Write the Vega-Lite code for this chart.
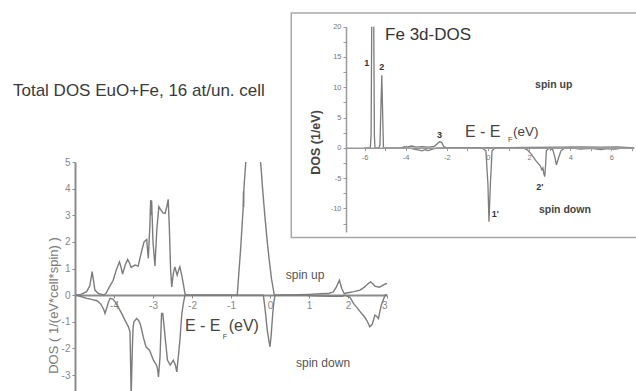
{
  "$schema": "https://vega.github.io/schema/vega-lite/v6.json",
  "width": 636,
  "height": 391,
  "autosize": "none",
  "padding": 0,
  "background": "white",
  "config": {"view": {"stroke": null}, "font": "Liberation Sans", "axis": {"grid": false, "labelFont": "Liberation Sans", "titleFont": "Liberation Sans"}},
  "datasets": {
    "main": [
      {"s": "up1", "x": -4.97, "y": 0}, {"s": "up1", "x": -4.85, "y": 0.03}, {"s": "up1", "x": -4.7, "y": 0.13}, {"s": "up1", "x": -4.62, "y": 0.35}, {"s": "up1", "x": -4.56, "y": 0.88}, {"s": "up1", "x": -4.52, "y": 0.5}, {"s": "up1", "x": -4.49, "y": 0.19}, {"s": "up1", "x": -4.4, "y": 0.06}, {"s": "up1", "x": -4.27, "y": 0.01}, {"s": "up1", "x": -4.21, "y": 0.05}, {"s": "up1", "x": -4.12, "y": 0.3}, {"s": "up1", "x": -4.02, "y": 0.56}, {"s": "up1", "x": -3.94, "y": 0.95}, {"s": "up1", "x": -3.86, "y": 1.25}, {"s": "up1", "x": -3.82, "y": 1.05}, {"s": "up1", "x": -3.78, "y": 0.79}, {"s": "up1", "x": -3.72, "y": 1.1}, {"s": "up1", "x": -3.65, "y": 1.34}, {"s": "up1", "x": -3.6, "y": 1.2}, {"s": "up1", "x": -3.56, "y": 1.04}, {"s": "up1", "x": -3.5, "y": 1.1}, {"s": "up1", "x": -3.46, "y": 1.13}, {"s": "up1", "x": -3.38, "y": 1.09}, {"s": "up1", "x": -3.3, "y": 1.6}, {"s": "up1", "x": -3.23, "y": 2.0}, {"s": "up1", "x": -3.16, "y": 2.09}, {"s": "up1", "x": -3.14, "y": 1.7}, {"s": "up1", "x": -3.12, "y": 1.38}, {"s": "up1", "x": -3.08, "y": 2.6}, {"s": "up1", "x": -3.06, "y": 3.57}, {"s": "up1", "x": -3.045, "y": 3.0}, {"s": "up1", "x": -3.035, "y": 3.55}, {"s": "up1", "x": -3.0, "y": 2.0}, {"s": "up1", "x": -2.95, "y": 1.1}, {"s": "up1", "x": -2.9, "y": 2.5}, {"s": "up1", "x": -2.85, "y": 3.32}, {"s": "up1", "x": -2.8, "y": 3.2}, {"s": "up1", "x": -2.75, "y": 3.1}, {"s": "up1", "x": -2.69, "y": 3.07}, {"s": "up1", "x": -2.65, "y": 3.3}, {"s": "up1", "x": -2.61, "y": 3.6}, {"s": "up1", "x": -2.58, "y": 2.5}, {"s": "up1", "x": -2.55, "y": 1.0}, {"s": "up1", "x": -2.52, "y": 0.31}, {"s": "up1", "x": -2.48, "y": 0.8}, {"s": "up1", "x": -2.44, "y": 1.06}, {"s": "up1", "x": -2.4, "y": 0.85}, {"s": "up1", "x": -2.38, "y": 0.75}, {"s": "up1", "x": -2.34, "y": 0.95}, {"s": "up1", "x": -2.31, "y": 1.06}, {"s": "up1", "x": -2.27, "y": 0.8}, {"s": "up1", "x": -2.22, "y": 0.4}, {"s": "up1", "x": -2.18, "y": 0.06}, {"s": "up1", "x": -2.14, "y": 0}, {"s": "up1", "x": -1.5, "y": 0}, {"s": "up1", "x": -0.84, "y": 0}, {"s": "up1", "x": -0.8, "y": 0.8}, {"s": "up1", "x": -0.75, "y": 1.8}, {"s": "up1", "x": -0.7, "y": 3.0}, {"s": "up1", "x": -0.69, "y": 3.2}, {"s": "up1", "x": -0.68, "y": 3.9}, {"s": "up1", "x": -0.675, "y": 3.3}, {"s": "up1", "x": -0.67, "y": 3.95}, {"s": "up1", "x": -0.66, "y": 4.2}, {"s": "up1", "x": -0.62, "y": 5.0},
      {"s": "up2", "x": -0.24, "y": 5.0}, {"s": "up2", "x": -0.19, "y": 4.0}, {"s": "up2", "x": -0.13, "y": 2.94}, {"s": "up2", "x": -0.07, "y": 2.0}, {"s": "up2", "x": -0.02, "y": 1.32}, {"s": "up2", "x": 0.04, "y": 0.6}, {"s": "up2", "x": 0.11, "y": 0}, {"s": "up2", "x": 0.5, "y": 0.01}, {"s": "up2", "x": 1.0, "y": 0.03}, {"s": "up2", "x": 1.3, "y": 0.05}, {"s": "up2", "x": 1.5, "y": 0.06}, {"s": "up2", "x": 1.62, "y": 0.12}, {"s": "up2", "x": 1.7, "y": 0.3}, {"s": "up2", "x": 1.78, "y": 0.56}, {"s": "up2", "x": 1.84, "y": 0.25}, {"s": "up2", "x": 1.9, "y": 0.06}, {"s": "up2", "x": 2.0, "y": 0.09}, {"s": "up2", "x": 2.15, "y": 0.13}, {"s": "up2", "x": 2.31, "y": 0.19}, {"s": "up2", "x": 2.42, "y": 0.3}, {"s": "up2", "x": 2.52, "y": 0.44}, {"s": "up2", "x": 2.58, "y": 0.5}, {"s": "up2", "x": 2.64, "y": 0.42}, {"s": "up2", "x": 2.69, "y": 0.34}, {"s": "up2", "x": 2.8, "y": 0.3}, {"s": "up2", "x": 2.86, "y": 0.34}, {"s": "up2", "x": 2.93, "y": 0.4}, {"s": "up2", "x": 3.0, "y": 0.44},
      {"s": "down", "x": -4.97, "y": 0}, {"s": "down", "x": -4.85, "y": -0.05}, {"s": "down", "x": -4.7, "y": -0.12}, {"s": "down", "x": -4.55, "y": -0.17}, {"s": "down", "x": -4.44, "y": -0.21}, {"s": "down", "x": -4.36, "y": -0.3}, {"s": "down", "x": -4.32, "y": -0.38}, {"s": "down", "x": -4.26, "y": -0.55}, {"s": "down", "x": -4.23, "y": -0.69}, {"s": "down", "x": -4.19, "y": -0.5}, {"s": "down", "x": -4.14, "y": -0.25}, {"s": "down", "x": -4.1, "y": -0.12}, {"s": "down", "x": -4.03, "y": -0.15}, {"s": "down", "x": -3.97, "y": -0.25}, {"s": "down", "x": -3.91, "y": -0.4}, {"s": "down", "x": -3.85, "y": -0.56}, {"s": "down", "x": -3.78, "y": -0.75}, {"s": "down", "x": -3.72, "y": -0.94}, {"s": "down", "x": -3.63, "y": -1.19}, {"s": "down", "x": -3.59, "y": -1.38}, {"s": "down", "x": -3.575, "y": -2.5}, {"s": "down", "x": -3.56, "y": -3.8}, {"s": "down", "x": -3.53, "y": -2.0}, {"s": "down", "x": -3.51, "y": -1.2}, {"s": "down", "x": -3.49, "y": -1.0}, {"s": "down", "x": -3.42, "y": -0.88}, {"s": "down", "x": -3.37, "y": -0.95}, {"s": "down", "x": -3.33, "y": -1.07}, {"s": "down", "x": -3.29, "y": -1.3}, {"s": "down", "x": -3.25, "y": -1.57}, {"s": "down", "x": -3.18, "y": -1.94}, {"s": "down", "x": -3.09, "y": -2.07}, {"s": "down", "x": -3.04, "y": -2.25}, {"s": "down", "x": -2.99, "y": -2.44}, {"s": "down", "x": -2.91, "y": -2.63}, {"s": "down", "x": -2.88, "y": -2.8}, {"s": "down", "x": -2.86, "y": -3.07}, {"s": "down", "x": -2.84, "y": -2.7}, {"s": "down", "x": -2.82, "y": -2.32}, {"s": "down", "x": -2.8, "y": -1.5}, {"s": "down", "x": -2.78, "y": -0.69}, {"s": "down", "x": -2.75, "y": -0.69}, {"s": "down", "x": -2.72, "y": -1.1}, {"s": "down", "x": -2.69, "y": -1.57}, {"s": "down", "x": -2.66, "y": -2.0}, {"s": "down", "x": -2.63, "y": -2.44}, {"s": "down", "x": -2.56, "y": -2.63}, {"s": "down", "x": -2.48, "y": -2.44}, {"s": "down", "x": -2.43, "y": -2.6}, {"s": "down", "x": -2.39, "y": -2.88}, {"s": "down", "x": -2.35, "y": -2.3}, {"s": "down", "x": -2.31, "y": -1.69}, {"s": "down", "x": -2.26, "y": -0.69}, {"s": "down", "x": -2.22, "y": -0.3}, {"s": "down", "x": -2.18, "y": 0}, {"s": "down", "x": -1.0, "y": 0}, {"s": "down", "x": -0.17, "y": 0}, {"s": "down", "x": -0.12, "y": -0.6}, {"s": "down", "x": -0.07, "y": -1.32}, {"s": "down", "x": -0.03, "y": -1.7}, {"s": "down", "x": 0.0, "y": -1.94}, {"s": "down", "x": 0.03, "y": -1.5}, {"s": "down", "x": 0.07, "y": -0.69}, {"s": "down", "x": 0.1, "y": -0.25}, {"s": "down", "x": 0.13, "y": 0}, {"s": "down", "x": 0.9, "y": 0}, {"s": "down", "x": 1.0, "y": -0.02}, {"s": "down", "x": 1.5, "y": -0.04}, {"s": "down", "x": 1.85, "y": -0.04}, {"s": "down", "x": 1.92, "y": 0}, {"s": "down", "x": 2.05, "y": -0.08}, {"s": "down", "x": 2.14, "y": -0.31}, {"s": "down", "x": 2.22, "y": -0.45}, {"s": "down", "x": 2.3, "y": -0.6}, {"s": "down", "x": 2.44, "y": -0.85}, {"s": "down", "x": 2.5, "y": -1.0}, {"s": "down", "x": 2.56, "y": -1.19}, {"s": "down", "x": 2.62, "y": -1.1}, {"s": "down", "x": 2.69, "y": -0.75}, {"s": "down", "x": 2.74, "y": -0.8}, {"s": "down", "x": 2.78, "y": -0.88}, {"s": "down", "x": 2.82, "y": -0.6}, {"s": "down", "x": 2.86, "y": -0.35}, {"s": "down", "x": 2.95, "y": 0}, {"s": "down", "x": 3.0, "y": 0.02}
    ],
    "inset": [
      {"s": "u1", "x": -6.0, "y": 0}, {"s": "u1", "x": -5.72, "y": 0}, {"s": "u1", "x": -5.68, "y": 2}, {"s": "u1", "x": -5.65, "y": 20},
      {"s": "u2", "x": -5.55, "y": 20}, {"s": "u2", "x": -5.52, "y": 2}, {"s": "u2", "x": -5.49, "y": 0}, {"s": "u2", "x": -5.3, "y": 0}, {"s": "u2", "x": -5.25, "y": 0.5}, {"s": "u2", "x": -5.16, "y": 12}, {"s": "u2", "x": -5.08, "y": 0}, {"s": "u2", "x": -4.2, "y": 0}, {"s": "u2", "x": -4.05, "y": 0.2}, {"s": "u2", "x": -3.9, "y": 0.15}, {"s": "u2", "x": -3.7, "y": 0.3}, {"s": "u2", "x": -3.5, "y": 0.1}, {"s": "u2", "x": -3.2, "y": 0.2}, {"s": "u2", "x": -2.9, "y": 0.1}, {"s": "u2", "x": -2.6, "y": 0.25}, {"s": "u2", "x": -2.45, "y": 0.7}, {"s": "u2", "x": -2.35, "y": 1.0}, {"s": "u2", "x": -2.25, "y": 0.9}, {"s": "u2", "x": -2.15, "y": 0.2}, {"s": "u2", "x": -2.0, "y": 0}, {"s": "u2", "x": 2.0, "y": 0.05}, {"s": "u2", "x": 3.6, "y": 0.1}, {"s": "u2", "x": 4.5, "y": 0.15}, {"s": "u2", "x": 5.5, "y": 0.1}, {"s": "u2", "x": 6.3, "y": 0.15}, {"s": "u2", "x": 7.1, "y": 0},
      {"s": "d", "x": -4.2, "y": 0}, {"s": "d", "x": -4.0, "y": -0.1}, {"s": "d", "x": -3.8, "y": -0.05}, {"s": "d", "x": -3.6, "y": -0.2}, {"s": "d", "x": -3.4, "y": -0.35}, {"s": "d", "x": -3.2, "y": -0.5}, {"s": "d", "x": -3.05, "y": -0.3}, {"s": "d", "x": -2.9, "y": -0.45}, {"s": "d", "x": -2.7, "y": -0.2}, {"s": "d", "x": -2.5, "y": -0.05}, {"s": "d", "x": -2.2, "y": 0}, {"s": "d", "x": -0.3, "y": 0}, {"s": "d", "x": -0.1, "y": -0.5}, {"s": "d", "x": 0.0, "y": -6}, {"s": "d", "x": 0.05, "y": -12.2}, {"s": "d", "x": 0.12, "y": -6}, {"s": "d", "x": 0.2, "y": -0.5}, {"s": "d", "x": 0.35, "y": 0}, {"s": "d", "x": 1.7, "y": 0}, {"s": "d", "x": 1.9, "y": -0.3}, {"s": "d", "x": 2.1, "y": -1.0}, {"s": "d", "x": 2.3, "y": -2.0}, {"s": "d", "x": 2.45, "y": -2.6}, {"s": "d", "x": 2.55, "y": -3.0}, {"s": "d", "x": 2.62, "y": -3.6}, {"s": "d", "x": 2.67, "y": -3.3}, {"s": "d", "x": 2.72, "y": -4.3}, {"s": "d", "x": 2.76, "y": -4.75}, {"s": "d", "x": 2.8, "y": -3.0}, {"s": "d", "x": 2.84, "y": -0.5}, {"s": "d", "x": 2.95, "y": -0.1}, {"s": "d", "x": 3.15, "y": -0.3}, {"s": "d", "x": 3.25, "y": -1.5}, {"s": "d", "x": 3.33, "y": -2.8}, {"s": "d", "x": 3.42, "y": -1.8}, {"s": "d", "x": 3.55, "y": -0.5}, {"s": "d", "x": 3.7, "y": -0.1}, {"s": "d", "x": 4.0, "y": 0}, {"s": "d", "x": 4.5, "y": -0.2}, {"s": "d", "x": 5.0, "y": -0.1}, {"s": "d", "x": 5.5, "y": -0.3}, {"s": "d", "x": 5.8, "y": -0.15}, {"s": "d", "x": 6.2, "y": -0.2}, {"s": "d", "x": 6.6, "y": 0}, {"s": "d", "x": 7.1, "y": 0}
    ]
  },
  "layer": [
    {
      "encoding": {
        "x": {"field": "x", "type": "quantitative", "scale": {"domain": [-5, 3], "range": [75, 387], "nice": false, "zero": false},
          "axis": {"orient": "bottom", "offset": -96, "values": [-4, -3, -2, -1, 0, 1, 2, 3], "labelExpr": "'' + datum.value", "title": null, "domainColor": "#8c8c8c", "domainWidth": 2, "tickColor": "#8c8c8c", "tickSize": 3, "labelColor": "#888888", "labelFontSize": 10, "labelPadding": 2}},
        "y": {"field": "y", "type": "quantitative", "scale": {"domain": [-3.6, 5], "range": [391, 162], "nice": false, "zero": false},
          "axis": {"orient": "left", "offset": -75, "values": [-3, -2, -1, 0, 1, 2, 3, 4, 5], "labelExpr": "'' + datum.value", "title": "DOS ( 1/(eV*cell*spin) )", "titleX": -22, "titleY": 305, "titleAngle": -90, "titleAlign": "center", "titleBaseline": "middle", "titleColor": "#7a7a7a", "titleFontSize": 13, "titleFontWeight": "normal", "domainColor": "#8c8c8c", "domainWidth": 2, "tickColor": "#8c8c8c", "tickSize": 3, "labelColor": "#888888", "labelFontSize": 10, "labelPadding": 2}}
      },
      "layer": [
        {"data": {"name": "main"}, "mark": {"type": "line", "color": "#7c7c7c", "strokeWidth": 1.4}, "encoding": {"detail": {"field": "s"}}},
        {"data": {"values": [{"x": -6.59, "y": 7.67, "t": "Total DOS EuO+Fe,  16 at/un. cell"}]}, "mark": {"type": "text", "align": "left", "baseline": "middle", "fontSize": 17, "color": "#3a3a3a"}, "encoding": {"text": {"field": "t"}}},
        {"data": {"values": [{"x": 0.9, "y": 0.75, "t": "spin up"}, {"x": 1.36, "y": -2.56, "t": "spin down"}]}, "mark": {"type": "text", "align": "center", "baseline": "middle", "fontSize": 12, "color": "#555555"}, "encoding": {"text": {"field": "t"}}},
        {"data": {"values": [{"x": -2.18, "y": -1.17, "t": "E - E"}, {"x": -1.06, "y": -1.17, "t": "(eV)"}]}, "mark": {"type": "text", "align": "left", "baseline": "middle", "fontSize": 16, "color": "#444444"}, "encoding": {"text": {"field": "t"}}},
        {"data": {"values": [{"x": -1.21, "y": -1.58, "t": "F"}]}, "mark": {"type": "text", "align": "left", "baseline": "middle", "fontSize": 7, "color": "#444444"}, "encoding": {"text": {"field": "t"}}}
      ]
    },
    {
      "encoding": {
        "x": {"field": "x", "type": "quantitative", "scale": {"domain": [-6.9, 7.1], "range": [346, 634], "nice": false, "zero": false},
          "axis": {"orient": "bottom", "offset": -243.3, "zindex": 1, "values": [-6, -5, -4, -3, -2, -1, 0, 1, 2, 3, 4, 5, 6, 7], "labelExpr": "datum.value % 2 === 0 ? '' + datum.value : ''", "title": null, "domainColor": "#9a9a9a", "domainWidth": 1.5, "tickColor": "#9a9a9a", "tickSize": 3, "labelColor": "#777777", "labelFontSize": 7.5, "labelPadding": 3}},
        "y": {"field": "y", "type": "quantitative", "scale": {"domain": [-13.9, 20], "range": [232, 26.7], "nice": false, "zero": false},
          "axis": {"orient": "left", "offset": -346, "zindex": 1, "values": [-12.5, -10, -7.5, -5, -2.5, 0, 2.5, 5, 7.5, 10, 12.5, 15, 17.5, 20], "labelExpr": "datum.value % 5 === 0 ? '' + datum.value : ''", "title": "DOS (1/eV)", "titleX": -31, "titleY": 142, "titleAngle": -90, "titleAlign": "center", "titleBaseline": "middle", "titleColor": "#444444", "titleFontSize": 12.5, "titleFontWeight": "bold", "domainColor": "#9a9a9a", "domainWidth": 1.5, "tickColor": "#9a9a9a", "tickSize": 3, "labelColor": "#777777", "labelFontSize": 7.5, "labelPadding": 2}}
      },
      "layer": [
        {"data": {"values": [{"x": -9.56, "x2": 8.2, "y": -14.8, "y2": 22.25}]}, "mark": {"type": "rect", "fill": "white", "stroke": "#a8a8a8", "strokeWidth": 1.5}, "encoding": {"x2": {"field": "x2"}, "y2": {"field": "y2"}}},
        {"data": {"name": "inset"}, "mark": {"type": "line", "color": "#7c7c7c", "strokeWidth": 1.3}, "encoding": {"detail": {"field": "s"}}},
        {"data": {"values": [{"x": -5.0, "y": 18.6, "t": "Fe 3d-DOS"}]}, "mark": {"type": "text", "align": "left", "baseline": "middle", "fontSize": 17, "color": "#333333"}, "encoding": {"text": {"field": "t"}}},
        {"data": {"values": [{"x": 3.2, "y": 10.3, "t": "spin up"}, {"x": 3.74, "y": -10.2, "t": "spin down"}]}, "mark": {"type": "text", "align": "center", "baseline": "middle", "fontSize": 10.5, "fontWeight": "bold", "color": "#444444"}, "encoding": {"text": {"field": "t"}}},
        {"data": {"values": [{"x": -1.12, "y": 2.6, "t": "E - E"}]}, "mark": {"type": "text", "align": "left", "baseline": "middle", "fontSize": 16, "color": "#444444"}, "encoding": {"text": {"field": "t"}}},
        {"data": {"values": [{"x": 1.22, "y": 2.6, "t": "(eV)"}]}, "mark": {"type": "text", "align": "left", "baseline": "middle", "fontSize": 13.5, "color": "#444444"}, "encoding": {"text": {"field": "t"}}},
        {"data": {"values": [{"x": 0.98, "y": 1.3, "t": "F"}]}, "mark": {"type": "text", "align": "left", "baseline": "middle", "fontSize": 7, "color": "#444444"}, "encoding": {"text": {"field": "t"}}},
        {"data": {"values": [{"x": -5.89, "y": 14.0, "t": "1"}, {"x": -5.16, "y": 13.3, "t": "2"}, {"x": -2.36, "y": 2.1, "t": "3"}, {"x": 0.36, "y": -10.9, "t": "1'"}, {"x": 2.52, "y": -6.45, "t": "2'"}]}, "mark": {"type": "text", "align": "center", "baseline": "middle", "fontSize": 9, "fontWeight": "bold", "color": "#333333"}, "encoding": {"text": {"field": "t"}}}
      ]
    }
  ],
  "resolve": {"scale": {"x": "independent", "y": "independent"}, "axis": {"x": "independent", "y": "independent"}}
}
